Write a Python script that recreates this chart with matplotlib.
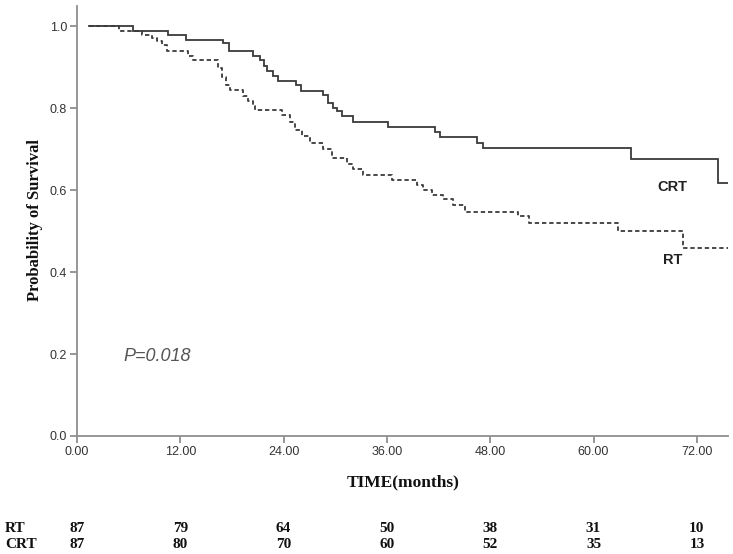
import numpy as np
import matplotlib
matplotlib.use("Agg")
import matplotlib.pyplot as plt
import matplotlib.transforms as mtransforms

# Kaplan-Meier step points (months, survival after the drop)
crt_time = [1.4, 6.5, 10.6, 12.7, 17.0, 17.65, 20.4, 21.25, 21.7, 22.1, 22.8, 23.35,
            25.4, 26.0, 28.6, 29.15, 29.7, 30.2, 30.8, 32.1, 36.1, 41.6, 42.15,
            46.45, 47.15, 64.35, 74.45]
crt_surv = [1.0, 0.989, 0.977, 0.965, 0.959, 0.940, 0.928, 0.916, 0.903, 0.890, 0.878, 0.866,
            0.856, 0.842, 0.832, 0.812, 0.800, 0.793, 0.780, 0.766, 0.754, 0.741, 0.729,
            0.715, 0.702, 0.676, 0.617]

rt_time = [1.4, 4.9, 7.55, 8.7, 9.3, 9.9, 10.45, 12.9, 13.5, 16.4, 16.85, 17.3, 17.8,
           19.3, 19.85, 20.45, 20.7, 23.8, 24.75, 25.3, 26.1, 27.05, 28.6, 29.6, 31.35,
           32.05, 33.2, 36.6, 39.5, 40.2, 41.2, 42.5, 43.7, 45.05, 51.2, 52.5, 62.85, 70.4]
rt_surv = [1.0, 0.988, 0.978, 0.971, 0.963, 0.954, 0.940, 0.928, 0.916, 0.898, 0.876, 0.856, 0.844,
           0.829, 0.817, 0.805, 0.795, 0.783, 0.766, 0.746, 0.732, 0.715, 0.700, 0.678, 0.663,
           0.651, 0.637, 0.624, 0.612, 0.600, 0.588, 0.578, 0.563, 0.546, 0.537, 0.520, 0.500, 0.459]

end_time = 75.6

risk_times = [0, 12, 24, 36, 48, 60, 72]
risk_rt = [87, 79, 64, 50, 38, 31, 10]
risk_crt = [87, 80, 70, 60, 52, 35, 13]

xticks = [0, 12, 24, 36, 48, 60, 72]
yticks = [0.0, 0.2, 0.4, 0.6, 0.8, 1.0]

line_col = "#3a3a3a"
axis_col = "#8f8f8f"

fig = plt.figure(figsize=(7.33, 5.54), dpi=100)
ax = fig.add_axes([0.105, 0.213, 0.888, 0.777])

ax.step(crt_time + [end_time], crt_surv + [crt_surv[-1]], where="post",
        color=line_col, lw=1.3, solid_joinstyle="miter")
ax.step(rt_time + [end_time], rt_surv + [rt_surv[-1]], where="post",
        color=line_col, lw=1.3, linestyle=(0, (2.4, 1.6)))

ax.set_xlim(0, end_time)
ax.set_ylim(0, 1.05)
ax.set_xticks(xticks)
ax.set_xticklabels(["%.2f" % v for v in xticks])
ax.set_yticks(yticks)
ax.set_yticklabels(["%.1f" % v for v in yticks])

for s in ["top", "right"]:
    ax.spines[s].set_visible(False)
for s in ["left", "bottom"]:
    ax.spines[s].set_color(axis_col)
    ax.spines[s].set_linewidth(1.3)
ax.tick_params(axis="both", direction="out", length=5, width=1.3, color=axis_col,
               labelsize=9, labelcolor="#333333", pad=2)
for lab in ax.get_xticklabels() + ax.get_yticklabels():
    lab.set_family(["Liberation Sans", "DejaVu Sans"])

# in-plot labels
ax.text(69.2, 0.607, "CRT", ha="center", va="center", fontsize=10.5,
        fontweight="bold", family=["Liberation Sans", "DejaVu Sans"], color="#222222")
ax.text(69.2, 0.429, "RT", ha="center", va="center", fontsize=10.5,
        fontweight="bold", family=["Liberation Sans", "DejaVu Sans"], color="#222222")
ax.text(9.3, 0.193, "P=0.018", ha="center", va="center", fontsize=13,
        style="italic", family=["Liberation Sans", "DejaVu Sans"], color="#555555")

# axis titles
fig.text(35 / 733, 1 - 220 / 554, "Probability of Survival", rotation=90,
         ha="center", va="center", fontsize=12, fontweight="bold",
         family=["Liberation Serif", "DejaVu Serif"], color="#111111")
fig.text(403 / 733, 1 - 482 / 554, "TIME(months)", ha="center", va="center",
         fontsize=12.5, fontweight="bold", family=["Liberation Serif", "DejaVu Serif"],
         color="#111111")

# number at risk table
trans = mtransforms.blended_transform_factory(ax.transData, fig.transFigure)
y_rt = 1 - 528 / 554
y_crt = 1 - 544 / 554
fig.text(5 / 733, y_rt, "RT", ha="left", va="center", fontsize=11, fontweight="bold",
         family=["Liberation Serif", "DejaVu Serif"], color="#111111")
fig.text(5 / 733, y_crt, "CRT", ha="left", va="center", fontsize=11, fontweight="bold",
         family=["Liberation Serif", "DejaVu Serif"], color="#111111")
for t, a, b in zip(risk_times, risk_rt, risk_crt):
    ax.text(t, y_rt, str(a), transform=trans, ha="center", va="center", fontsize=11,
            fontweight="bold", family=["Liberation Serif", "DejaVu Serif"], color="#111111",
            clip_on=False)
    ax.text(t, y_crt, str(b), transform=trans, ha="center", va="center", fontsize=11,
            fontweight="bold", family=["Liberation Serif", "DejaVu Serif"], color="#111111",
            clip_on=False)

fig.savefig("out.png", dpi=100)
